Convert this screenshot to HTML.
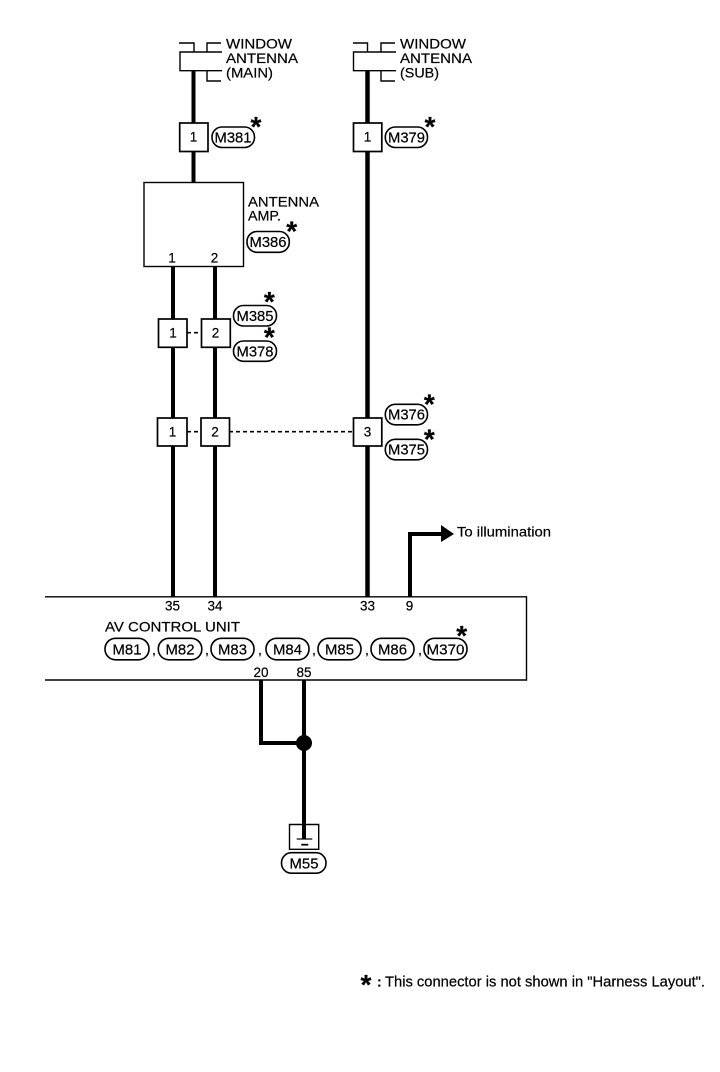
<!DOCTYPE html>
<html>
<head>
<meta charset="utf-8">
<style>
html,body{margin:0;padding:0;background:#fff}
svg{display:block}
text{font-family:"Liberation Sans",Arial,sans-serif;font-size:14px;fill:#000;stroke:#000;stroke-width:.2}
.c{text-anchor:middle}
.n{font-size:13.5px;text-anchor:middle}
.p{font-size:14.5px;text-anchor:middle}
.s{font-size:28px;font-weight:bold;text-anchor:middle}
.w{stroke:#000;fill:none}
.b{fill:#fff;stroke:#000;stroke-width:1.6}
.k{fill:#fff;stroke:#000;stroke-width:1.7}
.t{stroke:#000;fill:none;stroke-width:1.4}
</style>
</head>
<body>
<svg width="720" height="1072" viewBox="0 0 720 1072" xmlns="http://www.w3.org/2000/svg">
<rect width="720" height="1072" fill="#fff"/>

<!-- wires -->
<g class="w" stroke-width="4">
<path d="M193.5 70V182"/>
<path d="M173 266V597"/>
<path d="M215 266V597"/>
<path d="M367.5 70V597" stroke-width="4.5"/>
<path d="M410 597V534H442"/>
<path d="M261 680V743H304"/>
<path d="M304 680V839"/>
</g>
<path d="M441 525L454 534L441 542Z" fill="#000"/>
<circle cx="304" cy="743" r="8" fill="#000"/>

<!-- dashed -->
<g stroke="#000" stroke-width="1.6" stroke-dasharray="4 3" fill="none">
<path d="M187 332.7H201"/>
<path d="M187 431.7H201"/>
<path d="M229 431.7H353"/>
</g>

<!-- antenna brackets -->
<g class="t">
<path d="M179 43H194V52"/>
<path d="M221 43H207V52"/>
<path d="M222 52H180V70.7H222"/>
<path d="M207 70.7V81H221"/>
<path d="M353 43H367.5V52"/>
<path d="M395 43H381V52"/>
<path d="M396 52H353.5V70.7H396"/>
<path d="M381 70.7V81H395"/>
</g>
<text x="226" y="48.5" textLength="66" lengthAdjust="spacingAndGlyphs">WINDOW</text>
<text x="226" y="63" textLength="72" lengthAdjust="spacingAndGlyphs">ANTENNA</text>
<text x="226" y="77.5" textLength="47" lengthAdjust="spacingAndGlyphs">(MAIN)</text>
<text x="400" y="48.5" textLength="66" lengthAdjust="spacingAndGlyphs">WINDOW</text>
<text x="400" y="63" textLength="72" lengthAdjust="spacingAndGlyphs">ANTENNA</text>
<text x="400" y="77.5" textLength="39" lengthAdjust="spacingAndGlyphs">(SUB)</text>

<!-- amp -->
<rect x="144" y="182.5" width="99.5" height="84" class="t" fill="#fff"/>
<text x="248" y="206.7" textLength="71" lengthAdjust="spacingAndGlyphs">ANTENNA</text>
<text x="248" y="220.5" textLength="33" lengthAdjust="spacingAndGlyphs">AMP.</text>
<text class="n" x="172" y="262.5">1</text>
<text class="n" x="214.5" y="262.5">2</text>

<!-- connector boxes -->
<rect class="k" x="179.7" y="123" width="28.3" height="28.5"/>
<text class="n" x="193.5" y="141.5">1</text>
<rect class="k" x="353.5" y="123" width="28.3" height="28.5"/>
<text class="n" x="367.5" y="141.5">1</text>
<rect class="k" x="158.5" y="319" width="28.5" height="28.3"/>
<text class="n" x="173" y="337.5">1</text>
<rect class="k" x="201.5" y="319" width="28.8" height="28.3"/>
<text class="n" x="215.5" y="337.5">2</text>
<rect class="k" x="157.5" y="418" width="29.5" height="28"/>
<text class="n" x="172.5" y="436.5">1</text>
<rect class="k" x="201" y="418" width="28.5" height="28"/>
<text class="n" x="215" y="436.5">2</text>
<rect class="k" x="353.5" y="418" width="28.3" height="28"/>
<text class="n" x="367.5" y="436.5">3</text>

<!-- pills with stars -->
<rect class="b" x="212" y="127" width="42.5" height="20.5" rx="10"/>
<text class="p" x="233" y="142.5" textLength="37" lengthAdjust="spacingAndGlyphs">M381</text>
<text class="s" x="256" y="136">*</text>
<rect class="b" x="385.3" y="127" width="42.2" height="20.5" rx="10"/>
<text class="p" x="406.5" y="142.5" textLength="37" lengthAdjust="spacingAndGlyphs">M379</text>
<text class="s" x="430" y="136">*</text>
<rect class="b" x="247" y="231.5" width="42.3" height="20.8" rx="10"/>
<text class="p" x="268" y="247" textLength="37" lengthAdjust="spacingAndGlyphs">M386</text>
<text class="s" x="291.7" y="240.7">*</text>
<rect class="b" x="233.5" y="305.5" width="43" height="20.5" rx="10" stroke-width="2"/>
<text class="p" x="255" y="321" textLength="37" lengthAdjust="spacingAndGlyphs">M385</text>
<text class="s" x="269.3" y="311">*</text>
<rect class="b" x="233.5" y="341" width="43" height="20.3" rx="10"/>
<text class="p" x="255" y="356.5" textLength="37" lengthAdjust="spacingAndGlyphs">M378</text>
<text class="s" x="269.3" y="346.7">*</text>
<rect class="b" x="385.3" y="404.3" width="42.2" height="20.5" rx="10"/>
<text class="p" x="406.5" y="419.5" textLength="37" lengthAdjust="spacingAndGlyphs">M376</text>
<text class="s" x="429.3" y="413.4">*</text>
<rect class="b" x="385.3" y="439.3" width="42.2" height="20.5" rx="10"/>
<text class="p" x="406.5" y="454.5" textLength="37" lengthAdjust="spacingAndGlyphs">M375</text>
<text class="s" x="429.3" y="448.4">*</text>

<!-- arrow label -->
<text x="457" y="536.7" textLength="94" lengthAdjust="spacingAndGlyphs">To illumination</text>

<!-- AV unit -->
<path d="M45 596.8H526.5V680H45" class="t"/>
<text class="n" x="172.5" y="610.7">35</text>
<text class="n" x="215" y="610.7">34</text>
<text class="n" x="367.5" y="610.7">33</text>
<text class="n" x="409.5" y="610.7">9</text>
<text x="105" y="631.7" textLength="135" lengthAdjust="spacingAndGlyphs">AV CONTROL UNIT</text>
<g>
<rect class="b" x="105" y="638.3" width="44" height="21.5" rx="10.5"/>
<text class="p" x="127" y="654.5" textLength="29" lengthAdjust="spacingAndGlyphs">M81</text>
<text x="152" y="654.5">,</text>
<rect class="b" x="158.3" y="638.3" width="43.5" height="21.5" rx="10.5"/>
<text class="p" x="180" y="654.5" textLength="29" lengthAdjust="spacingAndGlyphs">M82</text>
<text x="205" y="654.5">,</text>
<rect class="b" x="211" y="638.3" width="43" height="21.5" rx="10.5"/>
<text class="p" x="232.5" y="654.5" textLength="29" lengthAdjust="spacingAndGlyphs">M83</text>
<text x="258" y="654.5">,</text>
<rect class="b" x="266" y="638.3" width="43" height="21.5" rx="10.5"/>
<text class="p" x="287.5" y="654.5" textLength="29" lengthAdjust="spacingAndGlyphs">M84</text>
<text x="312" y="654.5">,</text>
<rect class="b" x="318" y="638.3" width="43" height="21.5" rx="10.5"/>
<text class="p" x="339.5" y="654.5" textLength="29" lengthAdjust="spacingAndGlyphs">M85</text>
<text x="365" y="654.5">,</text>
<rect class="b" x="371" y="638.3" width="43" height="21.5" rx="10.5"/>
<text class="p" x="392.5" y="654.5" textLength="29" lengthAdjust="spacingAndGlyphs">M86</text>
<text x="418" y="654.5">,</text>
<rect class="b" x="424" y="638.3" width="43" height="21.5" rx="10.5"/>
<text class="p" x="445.5" y="654.5" textLength="38" lengthAdjust="spacingAndGlyphs">M370</text>
<text class="s" x="461.7" y="645">*</text>
</g>
<text class="n" x="261" y="677">20</text>
<text class="n" x="304" y="677">85</text>

<!-- ground -->
<path d="M289.5 824.5V849.3H318.7V824.5Z" class="t"/>
<path d="M296.7 839H312.3" stroke="#000" stroke-width="1.2"/>
<path d="M301.3 844.7H308.3" stroke="#000" stroke-width="1.8"/>
<rect class="b" x="281.5" y="852.7" width="44.5" height="20.5" rx="10"/>
<text class="p" x="304" y="868.3" textLength="29" lengthAdjust="spacingAndGlyphs">M55</text>

<!-- footnote -->
<text class="s" x="366" y="994">*</text>
<text x="377" y="986.5" font-weight="bold">:</text>
<text x="385" y="986.5" font-size="14.5" style="font-size:14.5px" textLength="320" lengthAdjust="spacingAndGlyphs">This connector is not shown in "Harness Layout".</text>
</svg>
</body>
</html>
